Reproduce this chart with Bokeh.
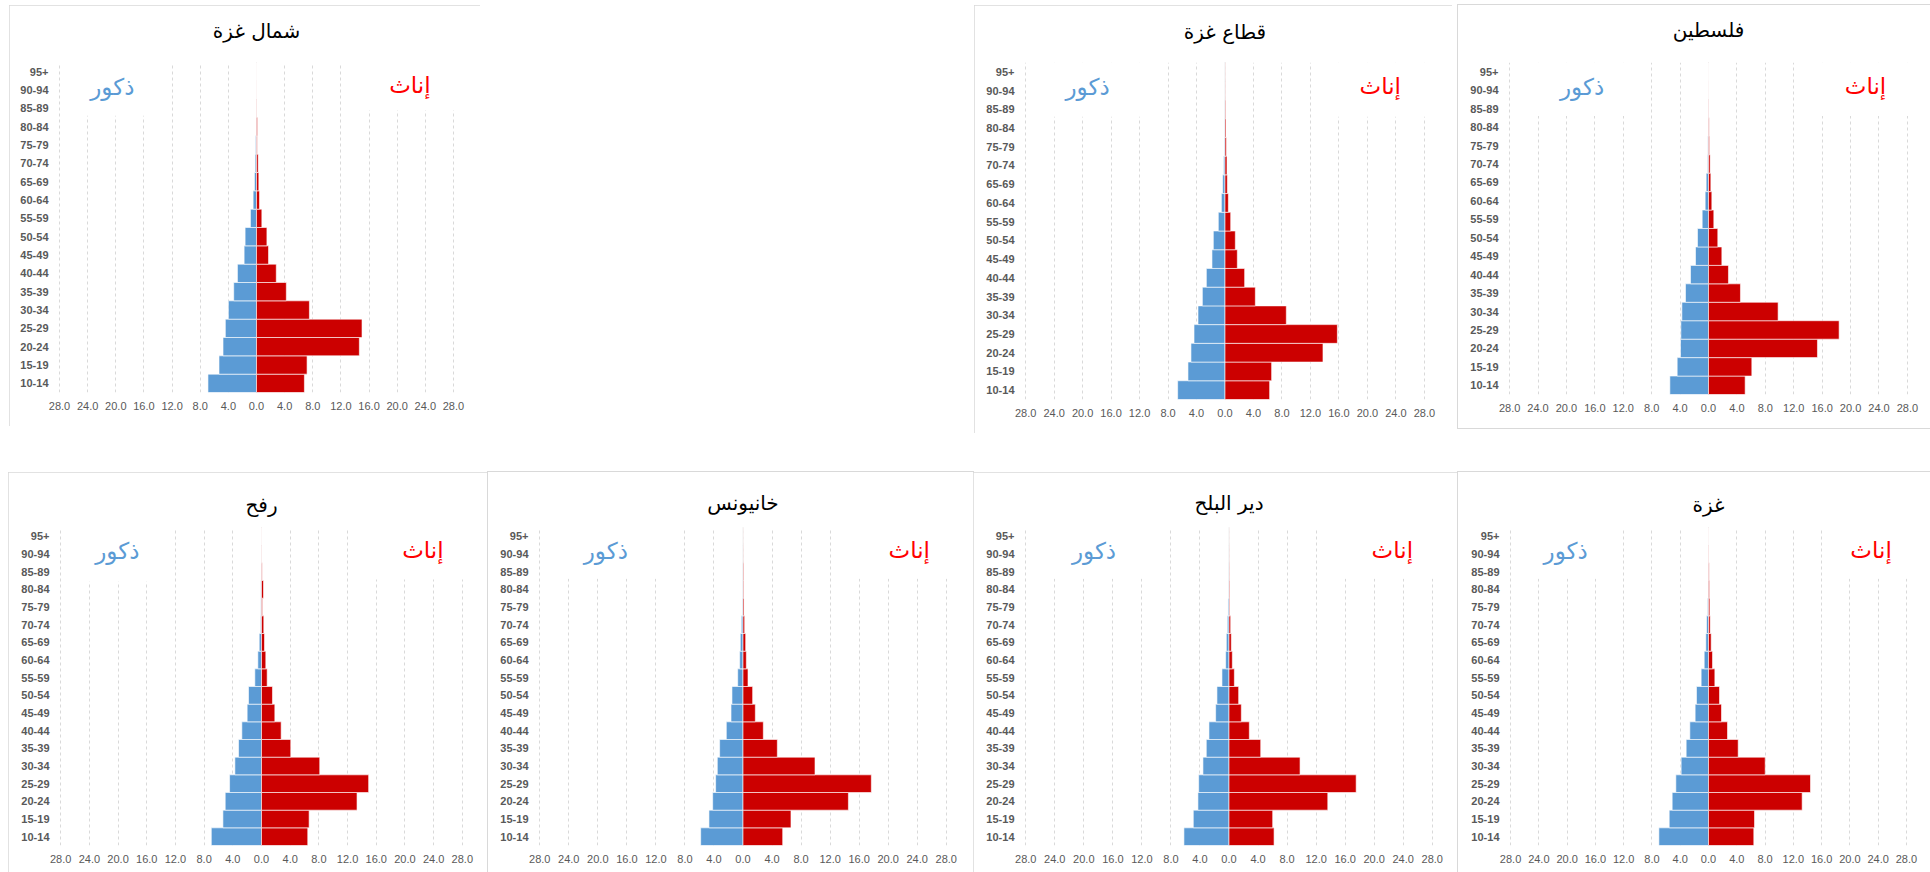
from bokeh.plotting import figure
from bokeh.models import (FactorRange, Range1d, FixedTicker, Label, BoxAnnotation,
                          Span, Spacer, ColumnDataSource, LinearAxis)
from bokeh.layouts import row, column
from bokeh.embed import file_html
from bokeh.resources import INLINE

# ---------------- data ----------------
ages = ["10-14", "15-19", "20-24", "25-29", "30-34", "35-39", "40-44", "45-49",
        "50-54", "55-59", "60-64", "65-69", "70-74", "75-79", "80-84", "85-89",
        "90-94", "95+"]

tick_values = [-28, -24, -20, -16, -12, -8, -4, 0, 4, 8, 12, 16, 20, 24, 28]
tick_labels = ["28.0", "24.0", "20.0", "16.0", "12.0", "8.0", "4.0", "0.0",
               "4.0", "8.0", "12.0", "16.0", "20.0", "24.0", "28.0"]

male_label = "ذكور"
female_label = "إناث"

title_north = "شمال غزة"
title_strip = "قطاع غزة"
title_palestine = "فلسطين"
title_rafah = "رفح"
title_khanyounis = "خانيونس"
title_deir = "دير البلح"
title_gaza = "غزة"

north_male = [6.90, 5.33, 4.76, 4.43, 4.00, 3.24, 2.71, 1.76, 1.62, 0.86, 0.48, 0.29, 0.19, 0.14, 0.05, 0.02, 0.01, 0.00]
north_female = [6.81, 7.19, 14.62, 15.00, 7.52, 4.24, 2.81, 1.71, 1.48, 0.76, 0.43, 0.33, 0.24, 0.10, 0.14, 0.05, 0.02, 0.01]

strip_male = [6.65, 5.20, 4.78, 4.35, 3.79, 3.18, 2.62, 1.83, 1.64, 0.94, 0.51, 0.33, 0.19, 0.10, 0.05, 0.03, 0.01, 0.01]
strip_female = [6.27, 6.55, 13.76, 15.78, 8.61, 4.26, 2.76, 1.73, 1.45, 0.80, 0.47, 0.33, 0.28, 0.19, 0.14, 0.09, 0.03, 0.02]

palestine_male = [5.44, 4.41, 3.94, 3.89, 3.75, 3.24, 2.53, 1.83, 1.55, 0.89, 0.47, 0.33, 0.14, 0.09, 0.05, 0.03, 0.01, 0.00]
palestine_female = [5.16, 6.10, 15.34, 18.39, 9.80, 4.50, 2.81, 1.88, 1.31, 0.75, 0.47, 0.33, 0.23, 0.14, 0.09, 0.05, 0.02, 0.01]

rafah_male = [7.00, 5.38, 5.06, 4.45, 3.71, 3.20, 2.74, 2.00, 1.81, 0.93, 0.51, 0.32, 0.14, 0.09, 0.09, 0.04, 0.02, 0.01]
rafah_female = [6.45, 6.64, 13.32, 14.94, 8.12, 4.08, 2.74, 1.86, 1.53, 0.79, 0.60, 0.42, 0.32, 0.14, 0.28, 0.09, 0.04, 0.02]

khanyounis_male = [5.83, 4.69, 4.18, 3.77, 3.54, 3.22, 2.30, 1.65, 1.52, 0.73, 0.46, 0.37, 0.23, 0.09, 0.05, 0.03, 0.01, 0.00]
khanyounis_female = [5.47, 6.61, 14.52, 17.68, 9.92, 4.73, 2.80, 1.70, 1.33, 0.69, 0.46, 0.37, 0.23, 0.14, 0.09, 0.09, 0.02, 0.01]

deir_male = [6.21, 4.92, 4.28, 4.18, 3.59, 3.13, 2.76, 1.84, 1.66, 0.97, 0.46, 0.37, 0.23, 0.14, 0.05, 0.03, 0.01, 0.00]
deir_female = [6.21, 6.02, 13.61, 17.52, 9.79, 4.37, 2.80, 1.70, 1.33, 0.74, 0.46, 0.32, 0.23, 0.09, 0.09, 0.05, 0.02, 0.01]

gaza_male = [7.02, 5.56, 5.14, 4.62, 3.87, 3.16, 2.64, 1.89, 1.70, 1.04, 0.61, 0.38, 0.28, 0.14, 0.06, 0.03, 0.01, 0.00]
gaza_female = [6.41, 6.51, 13.25, 14.43, 8.02, 4.20, 2.69, 1.84, 1.56, 0.90, 0.57, 0.38, 0.24, 0.19, 0.14, 0.09, 0.05, 0.02]

# ---------------- style ----------------
MALE_COLOR = "#5B9BD5"
FEMALE_COLOR = "#CC0000"
FEMALE_TEXT = "#FF0000"
GRID_COLOR = "#D9D9D9"
TEXT_GRAY = "#595959"
BORDER = "#D9D9D9"
ARABIC_FONT = "DejaVu Sans"


def panel(title, male, female, w, h, mbl, mbr, mbt, mbb, title_gap,
          mx, fx, mbox, fbox, outline_offset):
    p = figure(width=w, height=h, output_backend="svg", toolbar_location=None,
               y_range=FactorRange(factors=ages, range_padding=0),
               x_range=Range1d(-29, 29),
               min_border_left=mbl, min_border_right=mbr,
               min_border_top=mbt, min_border_bottom=mbb,
               outline_line_color=None, background_fill_color="white",
               border_fill_color="white",
               styles={"outline": "1px solid " + BORDER,
                       "outline-offset": outline_offset})
    # an invisible spacer axis above the frame keeps the title at the right height
    gap_axis = LinearAxis(ticker=FixedTicker(ticks=[0]), major_tick_out=title_gap,
                          major_tick_in=0, minor_tick_out=0, minor_tick_in=0,
                          axis_line_color=None, major_tick_line_color=None,
                          minor_tick_line_color=None, major_label_standoff=0,
                          major_label_overrides={0: ""},
                          major_label_text_font_size="0px")
    p.add_layout(gap_axis, "above")

    p.title.text = title
    p.title.align = "center"
    p.title.text_font = ARABIC_FONT
    p.title.text_font_size = "20px"
    p.title.text_font_style = "normal"
    p.title.text_color = "black"
    p.title.standoff = 4

    src = ColumnDataSource(dict(age=ages,
                                mleft=[-v for v in male],
                                fright=list(female)))
    span0 = Span(location=0, dimension="height", line_color="#C8C8C8",
                 line_width=1, level="underlay")
    p.add_layout(span0)
    p.hbar(y="age", left="mleft", right=0, height=1.0, source=src,
           fill_color=MALE_COLOR, line_color="white", line_width=0.6)
    p.hbar(y="age", left=0, right="fright", height=1.0, source=src,
           fill_color=FEMALE_COLOR, line_color="white", line_width=0.6)

    bottom_axis = p.below[0]
    left_axis = p.left[0]

    ticker = FixedTicker(ticks=tick_values)
    bottom_axis.ticker = ticker
    bottom_axis.major_label_overrides = {t: l for t, l in zip(tick_values, tick_labels)}
    p.xgrid.ticker = ticker
    p.xgrid.grid_line_color = GRID_COLOR
    p.xgrid.grid_line_dash = "3 3"
    p.xgrid.grid_line_width = 1
    p.ygrid.grid_line_color = None

    for ax in (bottom_axis, left_axis):
        ax.axis_line_color = None
        ax.major_tick_line_color = None
        ax.minor_tick_line_color = None
        ax.major_tick_out = 0
        ax.major_tick_in = 0
        ax.minor_tick_out = 0
        ax.major_label_text_color = TEXT_GRAY
        ax.major_label_text_font = "Liberation Sans"
        ax.major_label_text_font_size = "11px"
    bottom_axis.major_label_standoff = 9
    left_axis.major_label_standoff = 4
    left_axis.major_label_text_font_style = "bold"

    # white text boxes that hide the grid behind the two legend words
    p.add_layout(BoxAnnotation(left=mbox[0], right=mbox[1], bottom=mbox[2], top=18.6,
                               fill_color="white", fill_alpha=1.0, line_color=None))
    p.add_layout(BoxAnnotation(left=fbox[0], right=fbox[1], bottom=fbox[2], top=18.6,
                               fill_color="white", fill_alpha=1.0, line_color=None))

    p.add_layout(Label(x=mx, y=16.68, text=male_label, text_color=MALE_COLOR,
                       text_font=ARABIC_FONT, text_font_size="23px",
                       text_align="center", text_baseline="middle"))
    p.add_layout(Label(x=fx, y=16.75, text=female_label, text_color=FEMALE_TEXT,
                       text_font=ARABIC_FONT, text_font_size="23px",
                       text_align="center", text_baseline="middle"))
    return p


p1 = panel(title_north, north_male, north_female, 471, 421, 43, 20, 55, 33, 18,
           -20.5, 21.8, (-26, -14, 15.1), (13.5, 29.5, 15.4), "-1px")
p2 = panel(title_strip, strip_male, strip_female, 478, 428, 44, 21, 57, 34, 17,
           -19.3, 21.8, (-26, -10, 15.1), (13.5, 29.5, 15.1), "-1px")
p3 = panel(title_palestine, palestine_male, palestine_female, 472, 423, 44, 16, 56, 32, 19,
           -17.8, 22.1, (-26, -10, 15.1), (13.5, 29.5, 15.1), "0px")
p4 = panel(title_rafah, rafah_male, rafah_female, 480, 400, 45, 19, 55, 27, 9,
           -20.1, 22.5, (-26, -14, 14.95), (13.5, 29.5, 15.05), "-1px")
p5 = panel(title_khanyounis, khanyounis_male, khanyounis_female, 485, 400, 44, 20, 55, 26, 11,
           -18.9, 22.9, (-26, -10, 15.1), (13.5, 29.5, 15.1), "0px")
p6 = panel(title_deir, deir_male, deir_female, 485, 400, 45, 19, 55, 25, 11,
           -18.6, 22.5, (-26, -10, 15.1), (13.5, 29.5, 15.1), "-1px")
p7 = panel(title_gaza, gaza_male, gaza_female, 472, 400, 45, 17, 55, 27, 9,
           -20.2, 23.0, (-26, -14, 15.1), (18, 29.5, 15.1), "0px")

top = row(Spacer(width=9, height=1), p1, Spacer(width=494, height=1), p2,
          Spacer(width=6, height=1), p3)
bottom = row(Spacer(width=8, height=1), p4, p5, p6, p7)
layout = column(Spacer(width=1, height=5), top, Spacer(width=1, height=39), bottom)

open("out.html", "w").write(file_html(layout, INLINE))
